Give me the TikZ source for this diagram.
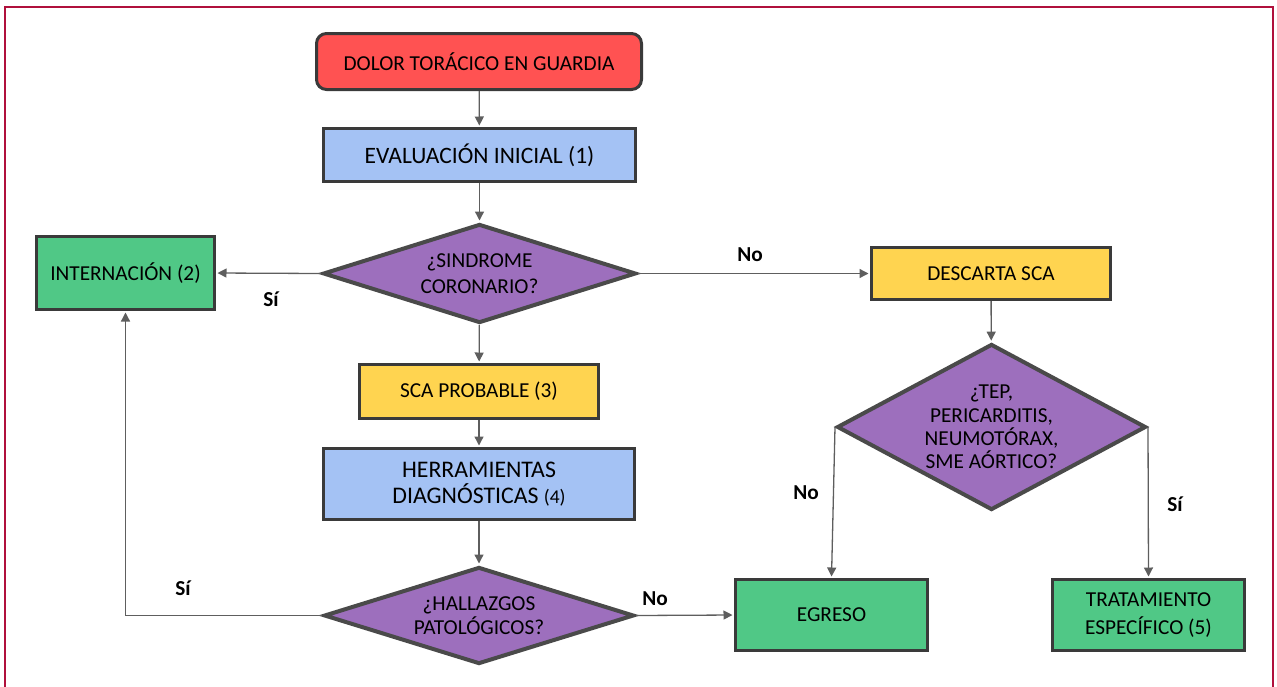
\documentclass[tikz,border=0pt]{standalone}
\usepackage{fontspec}
\setmainfont{Carlito}
\usetikzlibrary{shapes.geometric,arrows.meta}

\definecolor{framered}{HTML}{B0103C}
\definecolor{boxline}{HTML}{3A3A3A}
\definecolor{decline}{HTML}{4A4A4A}
\definecolor{linkgray}{HTML}{5E5E5E}
\definecolor{startred}{HTML}{FF5252}
\definecolor{stepblue}{HTML}{A4C2F4}
\definecolor{decpurple}{HTML}{9D6FBD}
\definecolor{endgreen}{HTML}{50C886}
\definecolor{noteyellow}{HTML}{FFD450}

\begin{document}
\begin{tikzpicture}[x=1pt,y=-1pt,
  box/.style={draw=boxline, line width=3pt, inner sep=0pt, align=center,
    text=black, font=\fontsize{21.3}{26}\selectfont},
  decision/.style={diamond, draw=decline, line width=4pt, fill=decpurple,
    inner sep=0pt, align=center, text=black, font=\fontsize{21.3}{24}\selectfont},
  link/.style={draw=linkgray, line width=1.3pt, shorten >=1.5pt,
    -{Triangle[length=9pt,width=9pt]}},
  answer/.style={text=black, font=\bfseries\fontsize{21.3}{26}\selectfont}]

\useasboundingbox (0,0) rectangle (1277,686);

% outer frame
\draw[framered, line width=2pt] (5,690) -- (5,7) -- (1273,7) -- (1273,690);

% main column
\node[box, fill=startred, rounded corners=10pt, minimum width=325pt, minimum height=56pt]
  (dolor) at (479,61.5) {DOLOR TORÁCICO EN GUARDIA};
\node[box, fill=stepblue, minimum width=312pt, minimum height=53pt,
  font=\fontsize{23.5}{28}\selectfont]
  (eval) at (479.5,155) {EVALUACIÓN INICIAL (1)};
\node[decision, shape aspect=3.16, minimum width=313pt, minimum height=99pt,
  font=\fontsize{21.3}{26}\selectfont]
  (sind) at (479.5,273.5) {¿SINDROME\\CORONARIO?};
\node[box, fill=noteyellow, minimum width=239pt, minimum height=54pt]
  (sca) at (479,391.5) {SCA PROBABLE (3)};
\node[box, fill=stepblue, minimum width=311pt, minimum height=71pt,
  font=\fontsize{23.8}{26}\selectfont]
  (herr) at (479,484) {HERRAMIENTAS\\DIAGNÓSTICAS {\fontsize{19.5}{20}\selectfont(4)}};
\node[decision, shape aspect=3.2, minimum width=310pt, minimum height=97pt]
  (hall) at (479,615.5) {¿HALLAZGOS\\PATOLÓGICOS?};

% left branch
\node[box, fill=endgreen, minimum width=178pt, minimum height=73pt]
  (intern) at (125.5,273) {INTERNACIÓN (2)};

% right branch
\node[box, fill=noteyellow, minimum width=239pt, minimum height=52pt]
  (desc) at (991,273.5) {DESCARTA SCA};
\node[decision, shape aspect=1.86, minimum width=309pt, minimum height=166pt,
  font=\fontsize{21.3}{23.3}\selectfont]
  (tep) at (991.5,427) {¿TEP,\\PERICARDITIS,\\NEUMOTÓRAX,\\SME AÓRTICO?};
\node[box, fill=endgreen, minimum width=192pt, minimum height=71pt]
  (egreso) at (831.5,615) {EGRESO};
\node[box, fill=endgreen, minimum width=192pt, minimum height=71pt,
  font=\fontsize{21.3}{28}\selectfont]
  (trat) at (1148.5,615) {TRATAMIENTO\\ESPECÍFICO (5)};

% connectors
\draw[link] (dolor) -- (eval);
\draw[link] (eval) -- (sind);
\draw[link] (sind.west) -- (intern.east);
\draw[link] (sind.east) -- (desc.west);
\draw[link] (sind) -- (sca);
\draw[link] (sca) -- (herr);
\draw[link] (herr) -- (hall);
\draw[link] (hall.east) -- (egreso.west);
\draw[link] (hall.west) -| (intern.south);
\draw[link] (desc) -- (tep);
\draw[link] (tep.west) -- (egreso.north);
\draw[link] (tep.east) -- (trat.north);

% answers
\node[answer] (siA) at (271,299) {Sí};
\node[answer] (noA) at (750,255) {No};
\node[answer] (siB) at (183,588) {Sí};
\node[answer] (noB) at (655,599) {No};
\node[answer] (noC) at (806,493) {No};
\node[answer] (siC) at (1175,504) {Sí};
\end{tikzpicture}
\end{document}
